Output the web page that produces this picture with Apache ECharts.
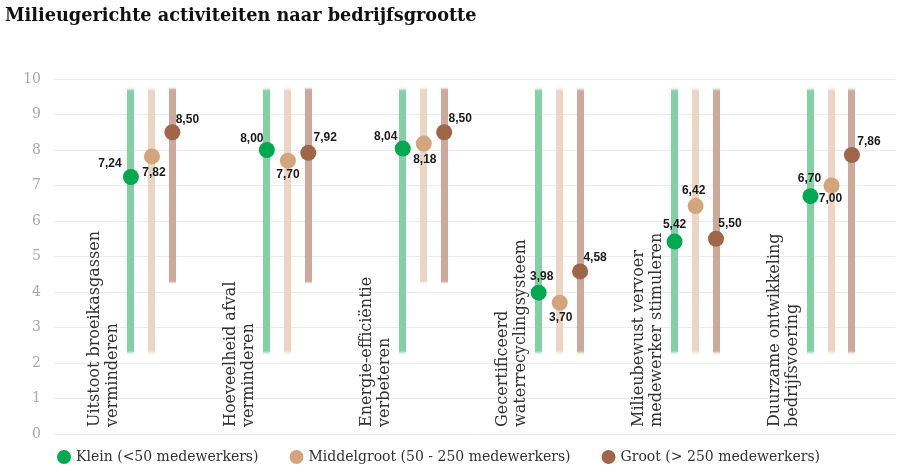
<!DOCTYPE html>
<html>
<head>
<meta charset="utf-8">
<script src="https://cdn.jsdelivr.net/npm/echarts@6/dist/echarts.min.js"></script>
<style>
  html, body { margin: 0; padding: 0; background: #fff; }
  #chart { width: 900px; height: 470px; }
</style>
</head>
<body>
<div id="chart"></div>
<script>
// activities (two-line labels, drawn rotated)
const categories = [
  'Uitstoot broeikasgassen\nverminderen',
  'Hoeveelheid afval\nverminderen',
  'Energie-efficiëntie\nverbeteren',
  'Gecertificeerd\nwaterrecyclingsysteem',
  'Milieubewust vervoer\nmedewerker stimuleren',
  'Duurzame ontwikkeling\nbedrijfsvoering'
];
const seriesNames = ['Klein (<50 medewerkers)', 'Middelgroot (50 - 250 medewerkers)', 'Groot (> 250 medewerkers)'];

// scores per company size
const klein = [7.24, 8.00, 8.04, 3.98, 5.42, 6.70];
const middelgroot = [7.82, 7.70, 8.18, 3.70, 6.42, 7.00];
const groot = [8.50, 7.92, 8.50, 4.58, 5.50, 7.86];

// background range bars (low end, high end)
const kleinLow = [2.2, 2.2, 2.2, 2.2, 2.2, 2.2];
const middelgrootLow = [2.2, 2.2, 4.2, 2.2, 2.2, 2.2];
const grootLow = [4.2, 4.2, 4.2, 2.2, 2.2, 2.2];
const rangeHigh = [9.8, 9.8, 9.8, 9.8, 9.8, 9.8];

const yTicks = [0, 1, 2, 3, 4, 5, 6, 7, 8, 9, 10];

// styling / layout
const dotColors = ['#00a84f', '#d4a57c', '#a0664a'];
const barColors = ['#82d1a5', '#ecd5c2', '#cbaa9c'];
const xOffsets = [0, 0.155, 0.305];
const labelOffsets = [
  [[-21, -13], [-15, -11], [-17, -12], [3, -16], [0, -17], [-1, -17]],
  [[2, 16], [0, 14], [1, 16], [1, 15], [-2, -15], [-1, 13]],
  [[15, -13], [17, -15], [16, -14], [15, -14], [14, -15], [17, -13]]
];
const serif = '"DejaVu Serif", "Liberation Serif", serif';

const values = [klein, middelgroot, groot];
const lows = [kleinLow, middelgrootLow, grootLow];

const fmt = (v) => v.toFixed(2).replace('.', ',');

const rangeSeries = lows.map((low, s) => ({
  type: 'custom',
  z: 1,
  silent: true,
  data: low.map((lo, i) => [i, lo, rangeHigh[i]]),
  renderItem: (params, api) => {
    const x = api.value(0) + xOffsets[s];
    const top = api.coord([x, api.value(2)]);
    const bot = api.coord([x, api.value(1)]);
    const c = barColors[s];
    return {
      type: 'rect',
      shape: { x: Math.round(top[0] - 3.5), y: top[1], width: 7, height: bot[1] - top[1] },
      style: {
        fill: new echarts.graphic.LinearGradient(0, 0, 0, 1, [
          { offset: 0, color: 'rgba(255,255,255,0)' },
          { offset: 0.018, color: c },
          { offset: 0.982, color: c },
          { offset: 1, color: 'rgba(255,255,255,0)' }
        ])
      }
    };
  }
}));

const dotSeries = values.map((vals, s) => ({
  name: seriesNames[s],
  type: 'scatter',
  z: 3,
  symbolSize: 16,
  itemStyle: { color: dotColors[s], opacity: 1 },
  data: vals.map((v, i) => ({
    value: [i + xOffsets[s], v],
    label: { offset: labelOffsets[s][i] }
  })),
  label: {
    show: true,
    position: 'inside',
    formatter: (p) => fmt(p.value[1]),
    fontFamily: '"Liberation Sans", Arial, sans-serif',
    fontWeight: 'bold',
    fontSize: 12,
    color: '#1a1a1a'
  }
}));

const categorySeries = {
  type: 'custom',
  z: 2,
  silent: true,
  data: categories.map((c, i) => [i]),
  renderItem: (params, api) => {
    const p = api.coord([api.value(0), 0]);
    return {
      type: 'text',
      x: p[0] - 27,
      y: p[1] - 7,
      rotation: Math.PI / 2,
      style: {
        text: categories[params.dataIndex],
        align: 'left',
        verticalAlign: 'middle',
        fontFamily: serif,
        fontSize: 16,
        lineHeight: 18,
        fill: '#333'
      }
    };
  }
};

const chart = echarts.init(document.getElementById('chart'));
chart.setOption({
  animation: false,
  title: {
    text: 'Milieugerichte activiteiten naar bedrijfsgrootte',
    left: 0,
    top: 2,
    textStyle: { fontFamily: serif, fontWeight: 'bold', fontSize: 17.7, color: '#111' }
  },
  legend: {
    data: seriesNames,
    left: 52,
    top: 445,
    icon: 'circle',
    itemWidth: 14,
    itemHeight: 14,
    itemGap: 31,
    textStyle: { fontFamily: serif, fontSize: 14, color: '#333' }
  },
  grid: { left: 54, right: 5, top: 79, bottom: 36 },
  xAxis: { type: 'value', min: -0.566, max: 5.622, show: false },
  yAxis: {
    type: 'value',
    min: yTicks[0],
    max: yTicks[yTicks.length - 1],
    interval: 1,
    axisLine: { show: false },
    axisTick: { show: false },
    axisLabel: { color: '#aaa', fontFamily: serif, fontSize: 14, margin: 13 },
    splitLine: { lineStyle: { color: '#ebebeb', width: 1 } }
  },
  series: [...rangeSeries, categorySeries, ...dotSeries]
});
</script>
</body>
</html>
